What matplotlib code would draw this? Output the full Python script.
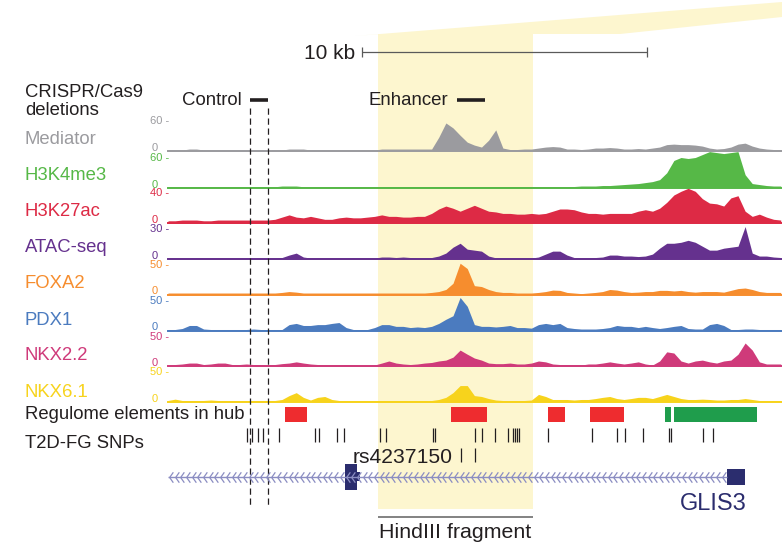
import numpy as np
import matplotlib.pyplot as plt
import matplotlib.transforms as mtransforms
from matplotlib.path import Path

plt.rcParams['font.family'] = ['Liberation Sans', 'DejaVu Sans']

# === Signal tracks (0.25 kb bins from the left edge of the window) ===
bin_kb = 0.25
mediator = [2, 2, 2, 4, 4, 2, 2, 2, 2, 2, 2, 2, 1, 1, 1, 2, 2, 4, 4, 4,
            2, 2, 2, 2, 2, 2, 2, 2, 2, 2, 4, 4, 4, 4, 4, 4, 4, 4, 28, 57,
            47, 32, 18, 12, 8, 22, 43, 6, 3, 3, 4, 4, 6, 8, 9, 8, 4, 4, 3, 4,
            6, 6, 7, 6, 4, 4, 5, 4, 6, 8, 13, 14, 13, 13, 12, 10, 6, 4, 5, 8,
            14, 16, 10, 6, 4, 3, 3]
h3k4me3 = [1.5, 1.5, 1.5, 1.5, 2, 1.5, 1.5, 1.5, 1.5, 1.5, 1.5, 1.5, 1.5, 1.5, 1.5, 1.5, 3, 3, 3, 1.5,
           1.5, 1.5, 1.5, 1.5, 1.5, 1.5, 1.5, 1.5, 1.5, 1.5, 1.5, 2, 2, 2, 2, 2, 2, 2, 2, 2,
           2, 1.5, 1.5, 1.5, 1.5, 1.5, 1.5, 1.5, 1.5, 1.5, 1.5, 1.5, 1.5, 1.5, 1.5, 1.5, 1.5, 2, 3, 3,
           3, 4, 4, 5, 6, 7, 8, 10, 12, 16, 30, 55, 61, 59, 61, 67, 73, 71, 69, 71,
           73, 26, 8, 6, 4, 3, 3]
h3k27ac = [3, 3, 4, 4, 4, 3, 3, 4, 4, 4, 4, 4, 4, 4, 4, 5, 8, 11, 8, 7,
           9, 7, 5, 5, 7, 8, 7, 7, 8, 9, 11, 9, 9, 8, 8, 9, 9, 13, 19, 23,
           20, 16, 20, 24, 20, 16, 15, 13, 13, 12, 12, 13, 12, 13, 16, 19, 19, 18, 15, 13,
           13, 12, 13, 13, 13, 13, 16, 18, 16, 20, 28, 38, 43, 47, 43, 33, 27, 26, 23, 34,
           37, 16, 9, 12, 8, 5, 4]
atac = [1, 1, 1, 1, 1.2, 1, 1, 1, 1, 1, 1, 1.2, 1, 1, 1, 1, 1.5, 4, 6, 2,
        1, 1, 1, 1, 1, 1, 1.2, 1, 1, 1, 2, 2, 1.5, 2, 1.5, 1, 1, 1.5, 3, 6,
        12, 16, 10, 9, 8, 3, 1.2, 1, 1, 1, 1, 1, 2, 5, 8, 8, 4, 1.5, 1, 1,
        1.5, 2, 4, 4, 3, 3, 2.5, 3, 5, 11, 16, 16, 17, 19, 17, 13, 9, 9, 11, 12,
        13, 33, 6, 3, 3, 2, 1.5]
foxa2 = [2.5, 2.5, 2.5, 2.5, 2.5, 2.5, 2.5, 2.5, 2.5, 2.5, 2.5, 2.5, 2.5, 2.5, 2.5, 2.5, 3.5, 5, 4, 2.5,
         2.5, 2.5, 2.5, 2.5, 2.5, 2.5, 2.5, 2.5, 2.5, 2.5, 2.5, 2.5, 2.5, 2.5, 2.5, 2.5, 2.5, 3.5, 5, 8.5,
         19, 53, 44, 15, 13.5, 8.5, 5, 3.5, 3.5, 2.5, 2.5, 2.5, 3.5, 5, 7.5, 7, 3.5, 2.5, 1.5, 2.5,
         3.5, 5, 8.5, 7.5, 5, 3.5, 4, 5, 5, 7, 7, 6, 7, 5, 4, 5, 5, 5, 4, 7,
         10, 11, 8.5, 5, 3.5, 3.5, 3.5]
pdx1 = [1.7, 1.7, 3.4, 8.5, 8.5, 2.5, 1.7, 1.7, 1.7, 1.7, 1.7, 1.7, 2.5, 1.7, 1.7, 1.7, 1.7, 10, 12, 8.5,
        8.5, 10, 10, 12, 13.5, 5, 1.7, 1.7, 1.7, 5, 10, 10, 7, 7, 5, 6, 5, 7, 12, 19,
        25, 56, 41, 10, 7, 7, 6, 7, 8.5, 5, 5, 4, 10, 12, 10, 12, 5, 3.4, 2.5, 2.5,
        2.5, 3.4, 5, 8.5, 7, 7, 5, 7, 5, 3.4, 5, 7, 8.5, 3.4, 2.5, 2.5, 10, 12, 8.5, 1.7,
        1.7, 2.5, 2.5, 1.7, 1.7, 1.7, 1.7]
nkx22 = [1, 2.5, 3.4, 5, 5, 2.5, 3.4, 5, 5, 2.5, 2.5, 3.4, 2.5, 2.5, 1.7, 2.5, 4, 5, 7, 5,
         3.4, 2.5, 1.7, 1.7, 1.7, 2.5, 1.7, 1, 1, 1.7, 5, 8.5, 5, 3.4, 2.5, 3.4, 5, 6, 8.5, 10,
         15, 27, 20, 13.5, 10, 5, 4, 4, 5, 3.4, 3.4, 5, 8.5, 7, 3.4, 2.5, 2.5, 1.7, 1.7, 3.4,
         3.4, 5, 7, 5, 3.4, 5, 7, 3.4, 1.7, 8.5, 24, 22, 8.5, 5, 8.5, 10, 7, 5, 8.5, 10,
         20, 39, 27, 7, 3.4, 3.4, 3.4]
nkx61 = [1.7, 4, 1.7, 1.7, 1.7, 1.7, 2.5, 1.7, 1.7, 1.7, 1.7, 1.7, 1.7, 1.7, 1.7, 1.7, 3.4, 10, 15, 7,
         2.5, 7, 8.5, 3.4, 1.7, 1.7, 1.7, 1.7, 1.7, 1.7, 1.7, 1.7, 1.7, 1.7, 1.7, 1.7, 1.7, 1.7, 3.4, 7,
         15, 27, 27, 10, 8.5, 5, 2.5, 1.7, 1.7, 1.7, 1.7, 2.5, 12, 8.5, 3.4, 3.4, 3.4, 2.5, 3.4, 3.4,
         5, 7, 8.5, 5, 3.4, 5, 7, 7, 5, 8.5, 12, 8.5, 5, 3.4, 3.4, 4, 3.4, 2.5, 2.5, 3.4,
         3.4, 5, 3.4, 1.7, 1.7, 1.7, 1.7]

track_names = ['Mediator', 'H3K4me3', 'H3K27ac', 'ATAC-seq', 'FOXA2', 'PDX1', 'NKX2.2', 'NKX6.1']
track_values = [mediator, h3k4me3, h3k27ac, atac, foxa2, pdx1, nkx22, nkx61]
track_max = [60, 60, 40, 30, 50, 50, 50, 50]
track_colors = ['#9b9b9f', '#56b847', '#dd2a45', '#65318e', '#f68d2e', '#4b7bbf', '#cf3a7a', '#f7d31c']

# === Annotations (kb from the left edge of the window) ===
deletion_names = ['Control', 'Enhancer']
deletion_kb = [(2.88, 3.51), (10.14, 11.12)]
hindiii_kb = (7.37, 12.81)
regulome_red = [(4.11, 4.88), (9.93, 11.19), (13.33, 13.93), (14.81, 16.0)]
regulome_green = [(17.44, 17.65), (17.75, 20.67)]
snps_row1 = [2.77, 2.95, 3.16, 3.33, 3.89, 5.16, 5.30, 5.93, 6.18, 7.44, 7.65, 9.30, 9.37,
             10.77, 11.02, 11.47, 11.93, 12.11, 12.18, 12.25, 12.32, 13.33, 14.88, 15.75,
             16.04, 16.67, 17.58, 17.64, 18.77, 19.12]
snps_row2 = [10.28, 10.77]
lead_snp = 'rs4237150'
gene_name = 'GLIS3'
gene_span = (0.0, 19.61)
exon_starts = [6.21, 6.63, 19.61]
exon_ends = [6.63, 6.74, 20.25]
exon_kind = ['cds', 'tail', 'utr']
scale_start, scale_kb = 6.81, 10

# === Layout (pixels) ===
W, H = 782, 543
X0, PX_KB = 168, 28.5
XMAX = (W - X0) / PX_KB
TRACK_PX = 29.5
baselines = [151, 187.5, 223, 259, 294.5, 330.5, 366, 401.5]
dark = '#231f20'
yellow = '#fdf6cf'

fig = plt.figure(figsize=(W / 100, H / 100), dpi=100)
pix = mtransforms.Affine2D().scale(1 / W, -1 / H).translate(0, 1) + fig.transFigure


def kb(px):
    return (px - X0) / PX_KB


# background: highlighted HindIII fragment
bg = fig.add_axes([0, 0, 1, 1], zorder=0)
bg.set_xlim(kb(0), kb(W))
bg.set_ylim(H, 0)
bg.axis('off')
bg.fill_between(hindiii_kb, 34, 509, color=yellow, lw=0)
bg.fill([kb(355), kb(W), kb(W), kb(620), hindiii_kb[0]], [36, 2, 17, 34, 34], color=yellow, lw=0)
bg.hlines(517, *hindiii_kb, color='#6d6d6d', lw=1.2)
bg.text(sum(hindiii_kb) / 2, 538.5, 'HindIII fragment', ha='center', va='baseline',
        fontsize=15.4, color=dark)

# === Tracks ===
for vals, name, m, col, b in zip(track_values, track_names, track_max, track_colors, baselines):
    tax = fig.add_axes([X0 / W, 1 - b / H, (W - X0) / W, TRACK_PX / H], zorder=2)
    tax.set_xlim(0, XMAX)
    tax.set_ylim(0, m)
    tax.axis('off')
    tax.patch.set_visible(False)
    pos = np.arange(len(vals)) * bin_kb
    tax.fill_between(pos, 0, vals, color=col, lw=0, clip_on=False)
    tax.axhline(0, color=col, lw=1.4, clip_on=False)
    fig.text(169, b - TRACK_PX, f'{m} -', transform=pix, ha='right', va='center',
             fontsize=8, color=col)
    fig.text(158, b, '0', transform=pix, ha='right', va='baseline', fontsize=8, color=col)

# left labels
label_base = [144, 180, 216, 252, 288, 325, 360, 397]
for name, col, y in zip(track_names, track_colors, label_base):
    fig.text(25, y, name, transform=pix, fontsize=13.3, color=col, va='baseline')
fig.text(25, 97, 'CRISPR/Cas9', transform=pix, fontsize=13.3, color=dark, va='baseline')
fig.text(25, 115, 'deletions', transform=pix, fontsize=13.3, color=dark, va='baseline')
fig.text(25, 419, 'Regulome elements in hub', transform=pix, fontsize=13.3, color=dark, va='baseline')
fig.text(25, 448, 'T2D-FG SNPs', transform=pix, fontsize=13.3, color=dark, va='baseline')

# === Overlay: deletions, regulome, SNPs, gene, scale ===
top = fig.add_axes([0, 0, 1, 1], zorder=3)
top.set_xlim(kb(0), kb(W))
top.set_ylim(H, 0)
top.axis('off')
top.patch.set_visible(False)

for name, (s, e) in zip(deletion_names, deletion_kb):
    top.hlines(100, s, e, color=dark, lw=2.6)
    top.text(s - 0.3, 105, name, ha='right', va='baseline', fontsize=13.4, color=dark)
top.vlines(deletion_kb[0], 108, 508, colors=dark, linestyles=(0, (5, 3)), lw=0.9)

for s, e in regulome_red:
    top.barh(414.5, e - s, left=s, height=15, color='#ee2c2f', lw=0)
for s, e in regulome_green:
    top.barh(414.5, e - s, left=s, height=15, color='#1f9d4c', lw=0)

top.vlines(snps_row1, 428, 442, colors=dark, lw=0.9)
top.vlines(snps_row2, 448, 462, colors=dark, lw=0.9)
top.text(kb(353), 463, lead_snp, ha='left', va='baseline', fontsize=15.2, color=dark)

# gene model
gene_line = '#8b8dc2'
gene_col = '#2b2d6e'
top.hlines(477, *gene_span, color=gene_line, lw=1)
chev = Path([(0.35, 1), (-0.35, 0), (0.35, -1)], [Path.MOVETO, Path.LINETO, Path.LINETO])
cx = np.arange(gene_span[0] + 0.1, gene_span[1], 0.2)
top.plot(cx, np.full(len(cx), 477), ls='none', marker=chev, ms=7.5, mfc='none',
         mec=gene_line, mew=0.9)
exon_h = {'cds': 26, 'tail': 9, 'utr': 16}
for s, e, k in zip(exon_starts, exon_ends, exon_kind):
    top.barh(476.5, e - s, left=s, height=exon_h[k], color=gene_col, lw=0)
top.text(exon_ends[-1] + 0.05, 510, gene_name, ha='right', va='baseline', fontsize=17, color=gene_col)

# scale bar
top.hlines(52, scale_start, scale_start + scale_kb, color='#5a5a5a', lw=0.9)
top.vlines([scale_start, scale_start + scale_kb], 47, 57, color='#5a5a5a', lw=0.9)
top.text(scale_start - 0.25, 59, f'{scale_kb} kb', ha='right', va='baseline', fontsize=15, color=dark)

fig.savefig('out.png', dpi=100)
